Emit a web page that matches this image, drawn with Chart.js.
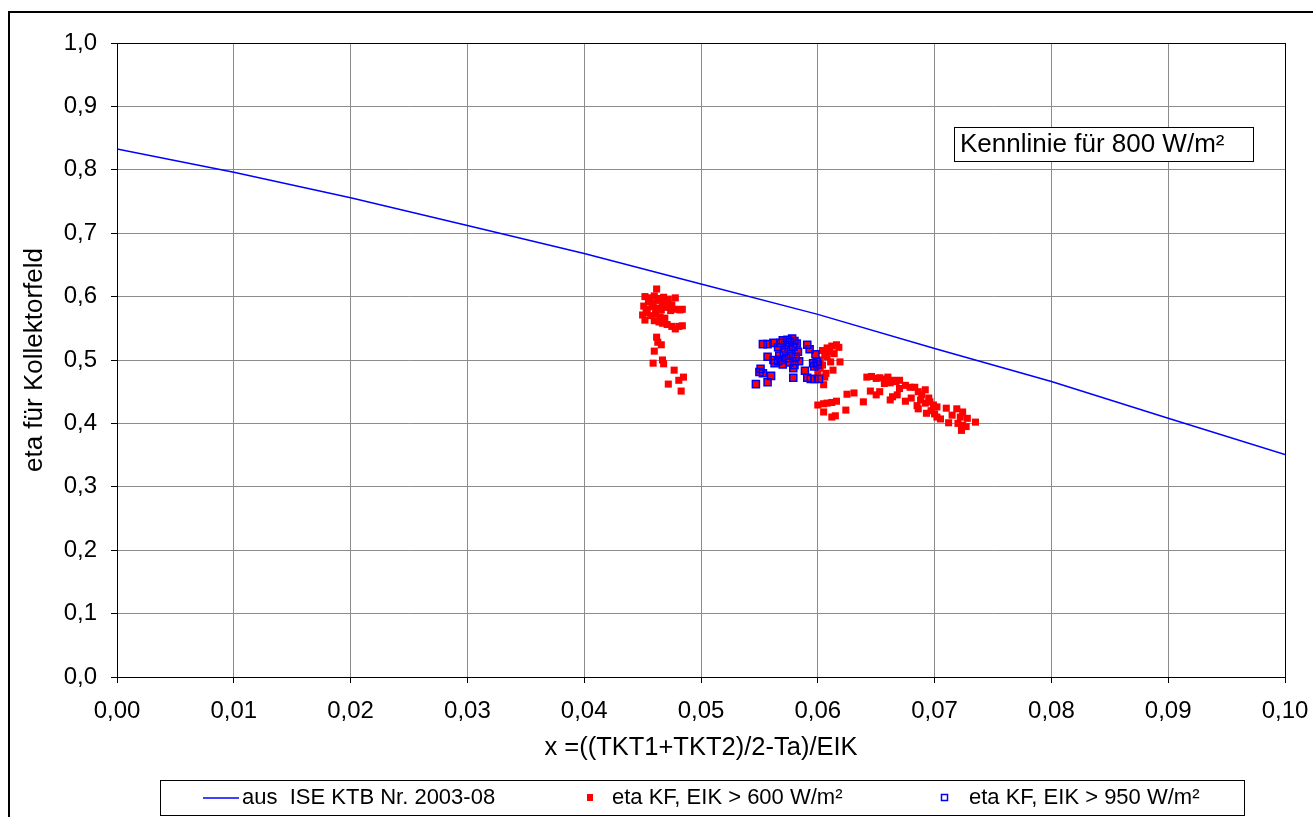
<!DOCTYPE html>
<html>
<head>
<meta charset="utf-8">
<title>Kennlinie Kollektorfeld</title>
<script src="https://cdn.jsdelivr.net/npm/chart.js@4.4.1/dist/chart.umd.min.js"></script>
<style>
  html, body { margin: 0; padding: 0; background: #fff; }
  canvas { display: block; }
</style>
</head>
<body>
<canvas id="chart" width="1313" height="817"></canvas>
<script>
// Data

const xTickLabels = ['0,00', '0,01', '0,02', '0,03', '0,04', '0,05', '0,06', '0,07', '0,08', '0,09', '0,10'];
const yTickLabels = ['0,0', '0,1', '0,2', '0,3', '0,4', '0,5', '0,6', '0,7', '0,8', '0,9', '1,0'];

const seriesNames = [
  'aus  ISE KTB Nr. 2003-08',
  'eta KF, EIK > 600 W/m²',
  'eta KF, EIK > 950 W/m²',
];

// Kennlinie (ISE test report), read at each grid line
const curveX = [0, 0.01, 0.02, 0.03, 0.04, 0.05, 0.06, 0.07, 0.08, 0.09, 0.10];
const curveY = [0.833, 0.796, 0.756, 0.712, 0.668, 0.620, 0.572, 0.518, 0.466, 0.408, 0.351];

// measured points, EIK > 950 W/m² (these are also part of the > 600 set)
const highPoints = [
  [0.0547, 0.462], [0.0551, 0.486], [0.0550, 0.481], [0.0553, 0.479], [0.0557, 0.465], [0.0560, 0.475],
  [0.0553, 0.525], [0.0557, 0.525], [0.0562, 0.527], [0.0557, 0.505], [0.0562, 0.500], [0.0563, 0.495],
  [0.0566, 0.520], [0.0568, 0.527], [0.0570, 0.531], [0.0572, 0.524], [0.0574, 0.532], [0.0576, 0.528],
  [0.0578, 0.534], [0.0580, 0.530], [0.0582, 0.526], [0.0579, 0.521], [0.0575, 0.517], [0.0571, 0.512],
  [0.0567, 0.507], [0.0569, 0.500], [0.0573, 0.503], [0.0577, 0.509], [0.0581, 0.505], [0.0584, 0.498],
  [0.0576, 0.496], [0.0570, 0.493], [0.0566, 0.498], [0.0580, 0.492], [0.0583, 0.513], [0.0579, 0.487],
  [0.0579, 0.472], [0.0591, 0.524], [0.0593, 0.517], [0.0598, 0.509], [0.0589, 0.483], [0.0591, 0.472],
  [0.0594, 0.470], [0.0597, 0.470], [0.0601, 0.470], [0.0596, 0.495], [0.0599, 0.497], [0.0597, 0.490],
  [0.0600, 0.493],
];

// measured points, EIK > 600 W/m² only
const lowPoints = [
  // cluster near 0.046
  [0.0462, 0.612],
  [0.0452, 0.600], [0.0456, 0.598], [0.0460, 0.601], [0.0464, 0.597], [0.0468, 0.599], [0.0472, 0.596],
  [0.0455, 0.592], [0.0459, 0.590], [0.0463, 0.594], [0.0467, 0.589], [0.0471, 0.591], [0.0475, 0.587],
  [0.0478, 0.598], [0.0451, 0.585], [0.0454, 0.580], [0.0458, 0.584], [0.0462, 0.582], [0.0466, 0.579],
  [0.0470, 0.583], [0.0474, 0.578], [0.0478, 0.580], [0.0482, 0.579], [0.0484, 0.580], [0.0450, 0.571],
  [0.0453, 0.575], [0.0457, 0.570], [0.0461, 0.573], [0.0465, 0.568], [0.0469, 0.566], [0.0452, 0.563],
  [0.0460, 0.562], [0.0464, 0.560], [0.0467, 0.558], [0.0471, 0.556], [0.0475, 0.553], [0.0478, 0.549],
  [0.0481, 0.553], [0.0484, 0.554], [0.0462, 0.536], [0.0463, 0.528], [0.0466, 0.524], [0.0460, 0.514],
  [0.0459, 0.495], [0.0467, 0.500], [0.0468, 0.494], [0.0477, 0.484], [0.0485, 0.473], [0.0481, 0.468],
  [0.0472, 0.462], [0.0483, 0.451],
  // next to the high-irradiance group
  [0.0616, 0.524], [0.0612, 0.522], [0.0608, 0.519], [0.0604, 0.515], [0.0610, 0.513], [0.0606, 0.508],
  [0.0614, 0.510], [0.0608, 0.505], [0.0602, 0.500], [0.0611, 0.497], [0.0619, 0.497], [0.0604, 0.492],
  [0.0602, 0.487], [0.0613, 0.484], [0.0607, 0.479], [0.0606, 0.473], [0.0605, 0.461], [0.0600, 0.480],
  [0.0618, 0.520],
  [0.0600, 0.429], [0.0605, 0.431], [0.0608, 0.432], [0.0612, 0.433], [0.0616, 0.435], [0.0605, 0.418],
  [0.0612, 0.410], [0.0615, 0.412], [0.0625, 0.446], [0.0631, 0.448], [0.0624, 0.421],
  // band 0.064 .. 0.074
  [0.0642, 0.473], [0.0646, 0.474], [0.0650, 0.471], [0.0653, 0.472], [0.0657, 0.470], [0.0660, 0.473],
  [0.0664, 0.468], [0.0667, 0.466], [0.0670, 0.468], [0.0645, 0.451], [0.0653, 0.450], [0.0662, 0.464],
  [0.0664, 0.442], [0.0662, 0.437], [0.0668, 0.445], [0.0675, 0.435], [0.0679, 0.457], [0.0683, 0.457],
  [0.0639, 0.434], [0.0686, 0.450], [0.0692, 0.453], [0.0688, 0.437], [0.0692, 0.432], [0.0686, 0.423],
  [0.0696, 0.434], [0.0699, 0.429], [0.0702, 0.426], [0.0710, 0.424], [0.0693, 0.416], [0.0702, 0.410],
  [0.0705, 0.407], [0.0712, 0.401], [0.0719, 0.423], [0.0724, 0.418], [0.0722, 0.410], [0.0728, 0.408],
  [0.0735, 0.402], [0.0724, 0.397], [0.0723, 0.389], [0.0689, 0.445], [0.0695, 0.440], [0.0685, 0.428],
  [0.0697, 0.420], [0.0700, 0.415], [0.0715, 0.413], [0.0720, 0.400], [0.0727, 0.395], [0.0670, 0.455],
  [0.0675, 0.460], [0.0680, 0.440], [0.0657, 0.463], [0.0650, 0.445],
];


// Styling

const FONT = 'Liberation Sans, Arial, sans-serif';
const RED  = '#ff0000';
const BLUE = '#0000ff';
const GRID = '#8c8c8c';

const toXY = ([x, y]) => ({ x, y });

// Frame, outer border, note box and legend are drawn by hand
const decorations = {
  id: 'decorations',
  beforeDraw(chart) {
    const { ctx } = chart;
    ctx.save();
    ctx.fillStyle = '#fff';
    ctx.fillRect(0, 0, chart.width, chart.height);
    ctx.restore();
  },
  afterDraw(chart) {
    const { ctx, chartArea: a } = chart;
    ctx.save();

    // outer chart border (left + top visible)
    ctx.strokeStyle = '#000';
    ctx.lineWidth = 2;
    ctx.beginPath();
    ctx.moveTo(9, chart.height + 5);
    ctx.lineTo(9, 12);
    ctx.lineTo(chart.width + 5, 12);
    ctx.stroke();

    // plot frame
    ctx.lineWidth = 1;
    ctx.strokeRect(Math.round(a.left) + 0.5, Math.round(a.top) + 0.5,
                   Math.round(a.right - a.left), Math.round(a.bottom - a.top));

    // note box
    ctx.fillStyle = '#fff';
    ctx.fillRect(954, 127, 299, 34);
    ctx.strokeRect(954.5, 127.5, 299, 34);
    ctx.fillStyle = '#000';
    ctx.font = `26px ${FONT}`;
    ctx.textBaseline = 'middle';
    ctx.textAlign = 'left';
    ctx.fillText('Kennlinie für 800 W/m²', 960, 145);

    // legend box
    ctx.strokeRect(160.5, 780.5, 1084, 35);
    const ly = 798;
    ctx.font = `22px ${FONT}`;

    ctx.strokeStyle = BLUE;
    ctx.lineWidth = 1.5;
    ctx.beginPath();
    ctx.moveTo(203, ly);
    ctx.lineTo(239, ly);
    ctx.stroke();
    ctx.fillStyle = '#000';
    ctx.fillText(seriesNames[0], 242, ly);

    ctx.fillStyle = RED;
    ctx.fillRect(587, ly - 4, 6, 7);
    ctx.fillStyle = '#000';
    ctx.fillText(seriesNames[1], 612, ly);

    ctx.strokeStyle = BLUE;
    ctx.lineWidth = 1.5;
    ctx.strokeRect(941.5, ly - 3.5, 6, 6);
    ctx.fillStyle = '#000';
    ctx.fillText(seriesNames[2], 969, ly);

    ctx.restore();
  },
};

new Chart(document.getElementById('chart'), {
  type: 'scatter',
  data: {
    datasets: [
      {
        label: seriesNames[2],
        data: highPoints.map(toXY),
        pointStyle: 'rect',
        pointRadius: 5,
        pointBorderWidth: 1.5,
        pointBorderColor: BLUE,
        pointBackgroundColor: 'rgba(0,0,0,0)',
        order: 0,
      },
      {
        label: seriesNames[1],
        data: lowPoints.concat(highPoints).map(toXY),
        pointStyle: 'rect',
        pointRadius: 5,
        pointBorderWidth: 0,
        pointBackgroundColor: RED,
        order: 1,
      },
      {
        label: seriesNames[0],
        data: curveX.map((x, i) => ({ x, y: curveY[i] })),
        showLine: true,
        borderColor: BLUE,
        borderWidth: 1.5,
        pointRadius: 0,
        tension: 0,
        order: 2,
      },
    ],
  },
  options: {
    responsive: false,
    animation: false,
    devicePixelRatio: 1,
    layout: { padding: { left: 0, top: 43, right: 28, bottom: 0 } },
    plugins: {
      legend: { display: false },
      tooltip: { enabled: false },
    },
    scales: {
      x: {
        type: 'linear',
        min: 0,
        max: 0.1,
        afterFit: s => { s.height = 140; s.paddingLeft = 0; s.paddingRight = 0; },
        afterBuildTicks: s => { s.ticks = curveX.map(v => ({ value: v })); },
        ticks: {
          color: '#000',
          font: { family: FONT, size: 24 },
          padding: 14,
          maxRotation: 0,
          autoSkip: false,
          callback: (v, i) => xTickLabels[i],
        },
        grid: { color: GRID, tickColor: '#000', tickLength: 6 },
        border: { color: '#000' },
        title: {
          display: true,
          text: 'x =((TKT1+TKT2)/2-Ta)/EIK',
          color: '#000',
          font: { family: FONT, size: 25.5 },
          padding: { top: 0, bottom: 54 },
        },
      },
      y: {
        type: 'linear',
        min: 0,
        max: 1,
        afterFit: s => { s.width = 117; s.paddingTop = 0; s.paddingBottom = 0; },
        afterBuildTicks: s => { s.ticks = yTickLabels.map((_, i) => ({ value: i / 10 })); },
        ticks: {
          color: '#000',
          font: { family: FONT, size: 24 },
          padding: 14,
          autoSkip: false,
          callback: (v, i) => yTickLabels[i],
        },
        grid: { color: GRID, tickColor: '#000', tickLength: 6 },
        border: { color: '#000' },
        title: {
          display: true,
          text: 'eta für Kollektorfeld',
          color: '#000',
          font: { family: FONT, size: 26 },
          padding: { top: 19, bottom: 0 },
        },
      },
    },
  },
  plugins: [decorations],
});
</script>
</body>
</html>
